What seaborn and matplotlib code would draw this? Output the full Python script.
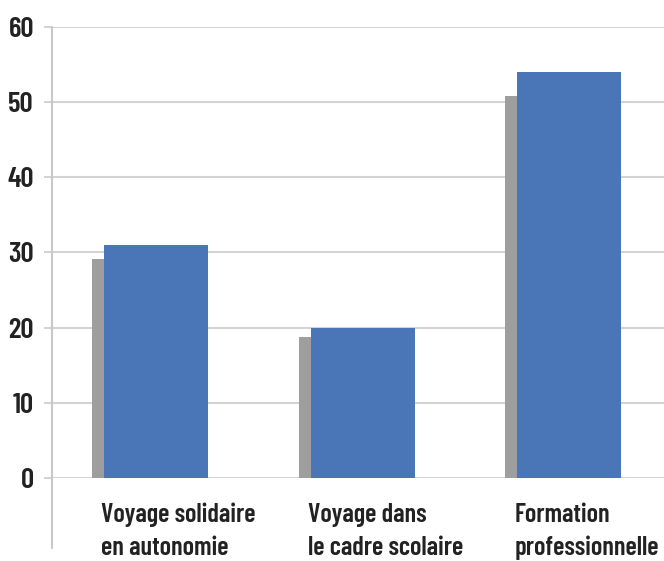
import matplotlib
matplotlib.use('Agg')
import matplotlib.pyplot as plt
from matplotlib.lines import Line2D
import numpy as np
import pandas as pd
import seaborn as sns

# Data
categories = ['Voyage solidaire\nen autonomie', 'Voyage dans\nle cadre scolaire', 'Formation\nprofessionnelle']
back_values = [29.1, 18.8, 50.8]   # grey bars (behind)
front_values = [31, 20, 54]        # blue bars
y_ticks = [0, 10, 20, 30, 40, 50, 60]

sns.set_style('white')
plt.rcParams['font.family'] = ['Barlow Condensed', 'Roboto Condensed', 'Liberation Sans', 'DejaVu Sans']

pos = np.arange(len(categories))
df_back = pd.DataFrame({'x': pos - 0.058, 'value': back_values})
df_front = pd.DataFrame({'x': pos.astype(float), 'value': front_values})

fig = plt.figure(figsize=(6.64, 5.61), dpi=100)
ax = fig.add_axes([0.0783, 0.148, 0.9217, 0.8039])

grid_col = '#d3d3d3'
ax.set_axisbelow(True)
ax.yaxis.grid(True, color=grid_col, linewidth=1.5)

sns.barplot(ax=ax, data=df_back, x='x', y='value', native_scale=True, width=0.504,
            color='#9e9e9e', saturation=1, edgecolor='none')
sns.barplot(ax=ax, data=df_front, x='x', y='value', native_scale=True, width=0.504,
            color='#4a76b8', saturation=1, edgecolor='none')

ax.set_xlim(-0.504, 2.46)
ax.set_ylim(0, 60)
ax.set_yticks(y_ticks)
ax.set_yticklabels([str(t) for t in y_ticks], fontsize=21, fontweight='semibold', color='#222222')
ax.tick_params(axis='y', length=6, width=1.5, color=grid_col, pad=7, left=True)

ax.set_xticks(pos - 0.265)
ax.set_xticklabels(categories, fontsize=19, fontweight='semibold', color='#222222',
                   ha='left', multialignment='left', linespacing=1.45)
ax.tick_params(axis='x', length=0, pad=18)

ax.set_xlabel('')
ax.set_ylabel('')
for s in ['top', 'right', 'bottom', 'left']:
    ax.spines[s].set_visible(False)

# vertical axis line extending below the zero line
ax.add_line(Line2D([0, 0], [-0.155, 1.0], transform=ax.transAxes, color='#c8c8c8',
                   linewidth=1.5, clip_on=False))

fig.savefig('out.png', dpi=100)
